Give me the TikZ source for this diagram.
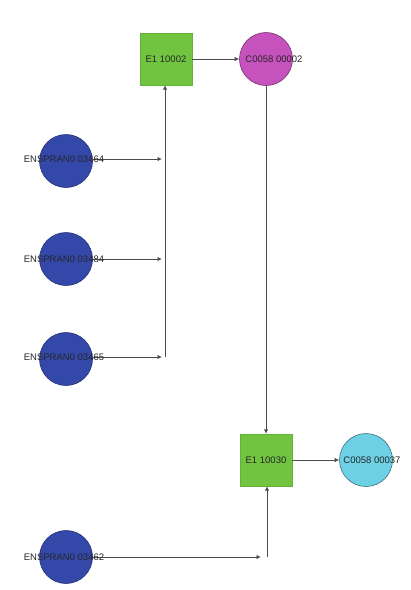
\documentclass[tikz,border=0pt]{standalone}
\usepackage{fontspec}
\setmainfont{Liberation Sans}
\usetikzlibrary{arrows.meta}
\definecolor{gnode}{RGB}{112,196,64}
\definecolor{bnode}{RGB}{52,72,170}
\definecolor{mnode}{RGB}{198,82,190}
\definecolor{cnode}{RGB}{110,208,228}
\tikzset{
  x=1pt,y=-1pt,
  lbl/.style={font=\fontsize{9.5}{10}\selectfont, inner sep=0pt, text=black!85},
  gene/.style={circle, minimum size=53pt, inner sep=0pt, fill=bnode, draw=bnode!70!black, line width=0.6pt},
  react/.style={rectangle, minimum size=52pt, inner sep=0pt, fill=gnode, draw=gnode!90!black},
  cpdm/.style={circle, minimum size=53pt, inner sep=0pt, fill=mnode, draw=mnode!60!black, line width=0.6pt},
  cpdc/.style={circle, minimum size=53pt, inner sep=0pt, fill=cnode, draw=cnode!55!black, line width=0.6pt},
  conn/.style={draw=black!70, line width=1pt},
  arr/.style={conn, -{Latex[length=4.5pt,width=4.5pt]}},
}
\begin{document}
\begin{tikzpicture}
\useasboundingbox (0,0) rectangle (411,590);
\fill[white] (0,0) rectangle (411,590);
% nodes
\node[react] (r1) at (166,59) {};
\node[cpdm] (m1) at (266,59) {};
\node[gene] (g1) at (66,161) {};
\node[gene] (g2) at (66,259) {};
\node[gene] (g3) at (66,359) {};
\node[react] (r2) at (266,460) {};
\node[cpdc] (c1) at (366,460) {};
\node[gene] (g4) at (66,557) {};
% bus coordinates
\coordinate (b1) at (165,159);
\coordinate (b2) at (165,259);
\coordinate (b3) at (165,357);
\coordinate (b4) at (267,557);
% connectors
\draw[arr] (r1.east) -- (m1.west);
\draw[arr] (m1.south) -- (r2.north);
\draw[arr] (r2.east) -- (c1.west);
\draw[arr] (g1.east |- b1) -- ([xshift=-3pt]b1);
\draw[arr] (g2.east |- b2) -- ([xshift=-3pt]b2);
\draw[arr] (g3.east |- b3) -- ([xshift=-3pt]b3);
\draw[arr] (b3) -- (r1.south -| b3);
\draw[arr] (g4.east |- b4) -- ([xshift=-6pt]b4);
\draw[arr] (b4) -- (r2.south -| b4);
% labels
\node[lbl] at (r1) {E1 10002};
\node[lbl] at ([xshift=8pt]m1.center) {C0058 00002};
\node[lbl] at (r2) {E1 10030};
\node[lbl] at ([xshift=6pt]c1.center) {C0058 00037};
\node[lbl] at ([xshift=-2pt]g1.center |- b1) {ENSPRAN0 03464};
\node[lbl] at ([xshift=-2pt]g2.center |- b2) {ENSPRAN0 03484};
\node[lbl] at ([xshift=-2pt]g3.center |- b3) {ENSPRAN0 03465};
\node[lbl] at ([xshift=-2pt]g4.center |- b4) {ENSPRAN0 03462};
\end{tikzpicture}
\end{document}
